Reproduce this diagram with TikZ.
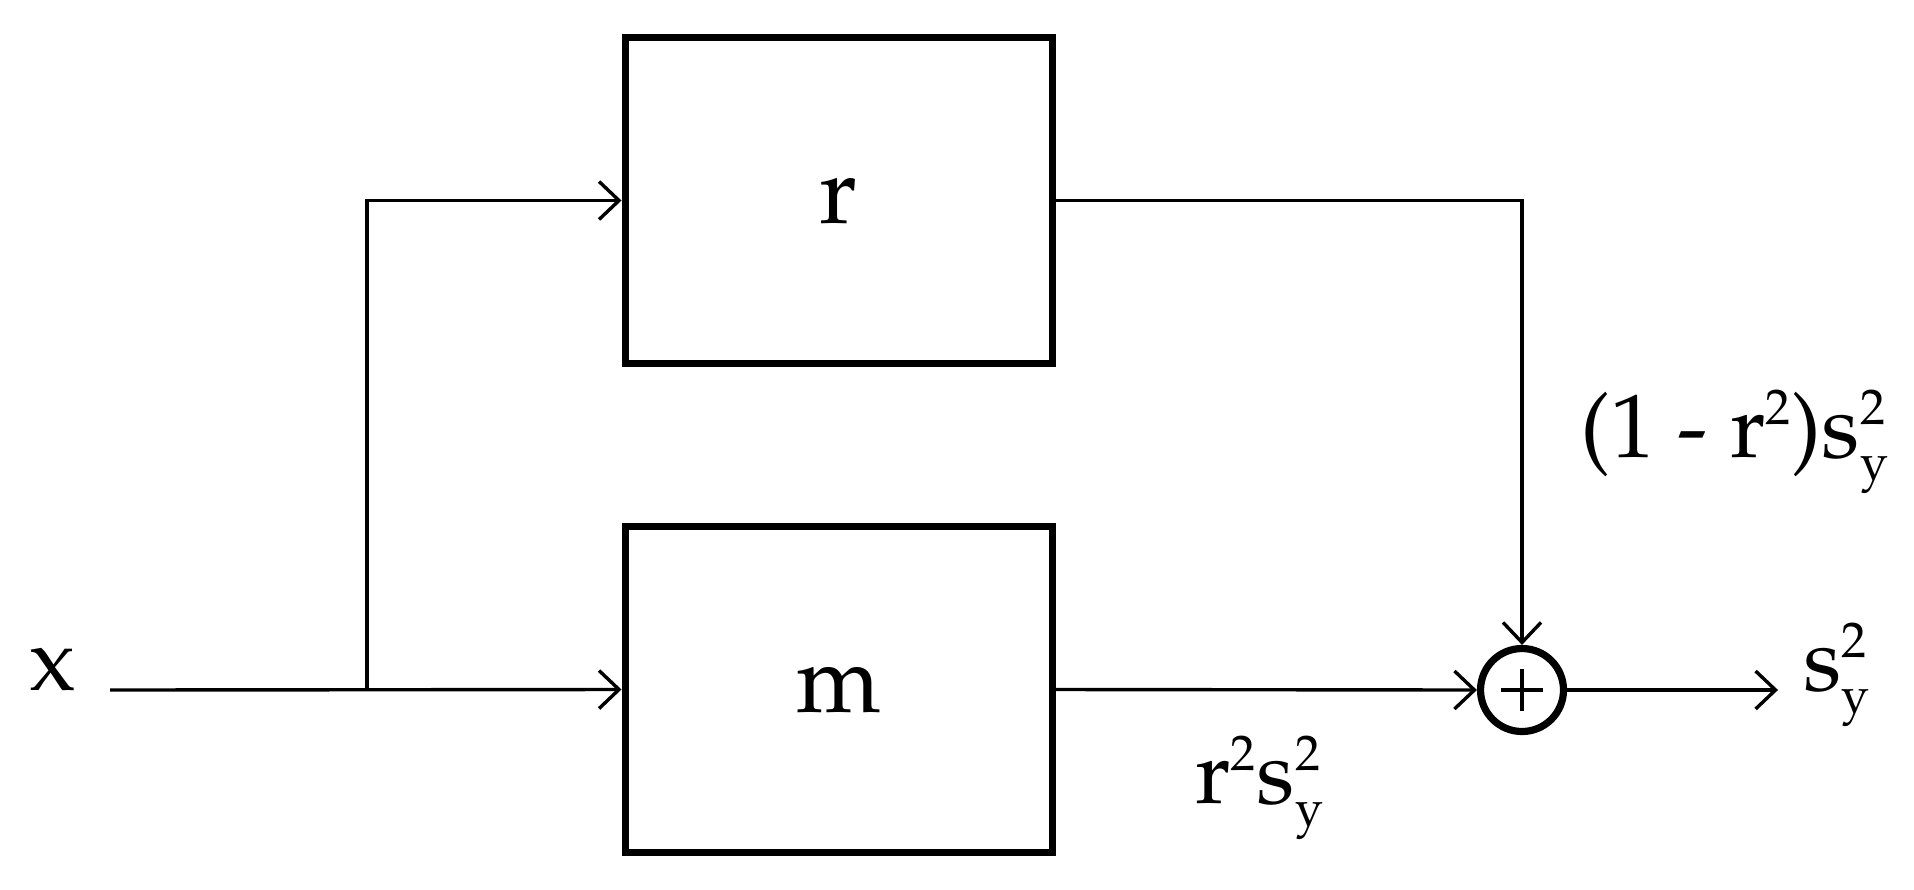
\documentclass[tikz,border=0pt]{standalone}
\usepackage[T1]{fontenc}
\usepackage{mathpazo}
\usetikzlibrary{arrows.meta}
\DeclareMathSizes{45}{45}{25}{20}
\DeclareMathSizes{48}{48}{27}{21}
\begin{document}
\begin{tikzpicture}[x={(0.5pt,0)}, y={(0,-0.5pt)},
  blk/.style={draw, line width=3.5pt, minimum width=213.5pt, minimum height=163pt, inner sep=0pt, font=\fontsize{48}{58}\selectfont},
  sumc/.style={circle, draw, line width=3.6pt, minimum size=41.5pt, inner sep=0pt},
  conn/.style={line width=1.7pt, -{Straight Barb[length=10pt,width=19pt,line width=1.7pt]}},
  lbl/.style={font=\fontsize{45}{54}\selectfont, inner sep=0pt}]
\useasboundingbox (0,0) rectangle (1914,889);
\node[blk] (rbox) at (838.5,200.5) {r};
\node[blk] (mbox) at (838.5,689.5) {m};
\node[sumc] (sum) at (1522,690) {};
\draw[line width=2.2pt] (sum.center) ++(-21,0) -- ++(42,0);
\draw[line width=2.2pt] (sum.center) ++(0,-21) -- ++(0,42);
\coordinate (in) at (110,690);
\coordinate (br) at (367,690);
\coordinate (out) at (1778,690);
\draw[conn] (in) -- (mbox.west);
\draw[conn] (br) |- (rbox.west);
\draw[conn] (rbox.east) -| (sum.north);
\draw[conn] (mbox.east) -- (sum.west);
\draw[conn] (sum.east) -- (out);
\node[lbl, anchor=base] (xlbl) at (53,690) {x};
\node[lbl, anchor=base west] (lab1) at (1580,457) {(1 - r$^{2}$)s$^{2}_{\mathrm{y}}$};
\node[lbl, anchor=base west] (lab2) at (1195,803) {r$^{2}$s$^{2}_{\mathrm{y}}$};
\node[lbl, anchor=base west] (outlbl) at (1803,690) {s$^{2}_{\mathrm{y}}$};
\end{tikzpicture}
\end{document}
